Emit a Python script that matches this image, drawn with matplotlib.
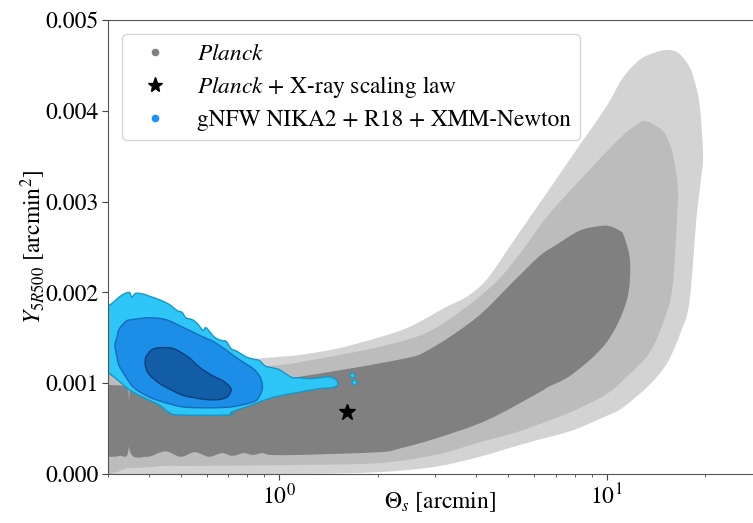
import matplotlib
matplotlib.use("Agg")
import numpy as np
import matplotlib.pyplot as plt
from matplotlib.lines import Line2D
from matplotlib.path import Path
from matplotlib.patches import PathPatch
from matplotlib.ticker import FormatStrFormatter

plt.rcParams["font.family"] = ["STIXGeneral", "DejaVu Serif"]
plt.rcParams["mathtext.fontset"] = "stix"

# Planck contours (Theta_s [arcmin], Y_5R500 [arcmin^2]) -- outer to inner
planck_3sig_x = [0.28, 0.346, 0.348, 0.350, 0.44, 0.448, 0.456, 1.15, 2.0, 3.0, 4.1, 5.2,
                 6.24, 7.87, 10.0, 11.2, 13.5, 15.3, 16.8, 17.9, 18.8, 19.5, 19.7, 19.2,
                 18.3, 17.6, 16.5, 15.3, 14.0, 12.6, 11.2, 10.0, 8.27, 7.03, 6.24, 5.16,
                 4.3, 3.73, 3.24, 2.5, 2.0, 1.5, 1.15, 1.0, 0.8, 0.5, 0.28]
planck_3sig_y = [0.0, 0.0, 0.00008, 0.0, 0.0, 0.00005, 0.0, 0.0, 0.00002, 0.00008, 0.00019, 0.00030,
                 0.00038, 0.00048, 0.00064, 0.00073, 0.00098, 0.00122, 0.00155, 0.00189, 0.00280, 0.00330, 0.00354, 0.00409,
                 0.00440, 0.00453, 0.00464, 0.00467, 0.00464, 0.00456, 0.00436, 0.00405, 0.00362, 0.00325, 0.00298, 0.00255,
                 0.00214, 0.00195, 0.00184, 0.00162, 0.00150, 0.00138, 0.00131, 0.00129, 0.00126, 0.00118, 0.00110]

planck_2sig_x = [0.28, 0.346, 0.348, 0.350, 0.44, 0.448, 0.456, 1.15, 2.0, 3.0, 4.1, 5.2,
                 6.24, 7.87, 10.0, 11.5, 13.5, 15.0, 15.9, 16.4, 16.5, 15.9, 15.0, 14.2,
                 13.3, 12.6, 11.0, 8.87, 6.56, 5.5, 4.4, 2.94, 2.02, 1.15, 1.0, 0.5, 0.28]
planck_2sig_y = [0.00008, 0.00007, 0.00016, 0.00007, 0.00009, 0.00013, 0.00009, 0.00010, 0.00012, 0.00021, 0.00035, 0.00045,
                 0.00055, 0.00069, 0.00088, 0.00107, 0.00133, 0.00170, 0.00206, 0.00280, 0.00316, 0.00354, 0.00376, 0.00383,
                 0.00388, 0.00387, 0.00370, 0.00335, 0.00283, 0.00245, 0.00205, 0.00159, 0.00140, 0.00123, 0.00120, 0.00110, 0.00105]

# 1-sigma region is split by a thin gap near 0.35 arcmin
planck_1sig_left_x = [0.28, 0.30, 0.325, 0.3465, 0.3465, 0.335, 0.30, 0.28]
planck_1sig_left_y = [0.00021, 0.00019, 0.00020, 0.00026, 0.00092, 0.00097, 0.00098, 0.00098]

planck_1sig_x = [0.3495, 0.395, 0.448, 0.50, 0.553, 0.61, 0.669, 0.72, 0.78, 0.83, 0.89, 0.94,
                 1.15, 2.02, 2.33, 3.0, 4.3, 6.24, 6.56, 7.87, 10.0, 11.5, 11.8, 11.3,
                 10.96, 10.2, 9.52, 8.27, 7.0, 6.24, 5.16, 4.0, 2.87, 2.33, 1.15, 1.0, 0.6, 0.36, 0.3495]
planck_1sig_y = [0.00026, 0.00019, 0.00025, 0.00019, 0.00024, 0.00019, 0.00023, 0.00020, 0.00023, 0.00021, 0.00023, 0.00021,
                 0.00021, 0.00024, 0.00028, 0.00039, 0.00059, 0.00090, 0.00095, 0.00110, 0.00145, 0.00190, 0.00233, 0.00262,
                 0.00268, 0.00273, 0.00273, 0.00268, 0.00252, 0.00240, 0.00211, 0.00172, 0.00137, 0.00126, 0.00107, 0.00106, 0.00100, 0.00097, 0.00092]

# gNFW NIKA2 + R18 + XMM-Newton contours
nika2_3sig_x = [0.28, 0.302, 0.318, 0.331, 0.348, 0.355, 0.365, 0.386, 0.400, 0.430, 0.460, 0.488,
                0.505, 0.519, 0.542, 0.561, 0.586, 0.598, 0.633, 0.665, 0.689, 0.713, 0.744, 0.782,
                0.821, 0.869, 0.906, 0.952, 1.0, 1.05, 1.10, 1.15, 1.24, 1.33, 1.42, 1.49, 1.51,
                1.45, 1.33, 1.15, 1.0, 0.912, 0.81, 0.713, 0.703, 0.494, 0.46, 0.43, 0.386, 0.348,
                0.32, 0.298, 0.28]
nika2_3sig_y = [0.00187, 0.00186, 0.00192, 0.00197, 0.00200, 0.00195, 0.00199, 0.00198, 0.00196, 0.00192, 0.00187, 0.00180,
                0.00178, 0.00172, 0.00170, 0.00166, 0.00158, 0.00161, 0.00151, 0.00147, 0.00146, 0.00138, 0.00135, 0.00130,
                0.00127, 0.00125, 0.00119, 0.00117, 0.00115, 0.00110, 0.00106, 0.00106, 0.00105, 0.00106, 0.00107, 0.00104, 0.00098,
                0.00095, 0.00094, 0.00090, 0.00086, 0.00082, 0.00075, 0.00068, 0.00065, 0.00065, 0.00068, 0.00076, 0.00084, 0.00093,
                0.00104, 0.00112, 0.00114]

nika2_2sig_x = [0.320, 0.324, 0.340, 0.355, 0.400, 0.451, 0.505, 0.569, 0.642, 0.755, 0.839, 0.881,
                0.887, 0.857, 0.810, 0.718, 0.642, 0.569, 0.505, 0.445, 0.400, 0.360, 0.340, 0.324,
                0.318, 0.315]
nika2_2sig_y = [0.00151, 0.00159, 0.00168, 0.00170, 0.00172, 0.00170, 0.00162, 0.00153, 0.00144, 0.00126, 0.00115, 0.00104,
                0.00093, 0.00082, 0.00078, 0.00074, 0.00073, 0.00073, 0.00074, 0.00079, 0.00085, 0.00095, 0.00107, 0.00120,
                0.00133, 0.00142]

nika2_1sig_x = [0.392, 0.409, 0.430, 0.460, 0.484, 0.531, 0.569, 0.620, 0.670, 0.703, 0.713, 0.694,
                0.655, 0.598, 0.549, 0.505, 0.460, 0.430, 0.400, 0.390]
nika2_1sig_y = [0.00129, 0.00137, 0.00139, 0.00139, 0.00137, 0.00128, 0.00118, 0.00109, 0.00103, 0.00097, 0.00092, 0.00085,
                0.00082, 0.00082, 0.00084, 0.00087, 0.00094, 0.00100, 0.00110, 0.00120]

# isolated islands of the outer NIKA2 contour
nika2_islands_x = [1.67, 1.69]
nika2_islands_y = [0.00109, 0.00101]

# Planck + X-ray scaling law
scaling_theta = [1.61]
scaling_y = [0.00068]

GREYS = ["#d3d3d3", "#bcbcbc", "#808080"]
BLUE_FILL = ["#2ec6f6", "#1c8ee8", "#135da6"]
BLUE_EDGE = ["#1597c8", "#166bbc", "#0d3f78"]


def smooth_contour(xs, ys, **kw):
    """Closed contour drawn with Catmull-Rom bezier segments (in log-x space)."""
    u = np.log10(np.asarray(xs, float))
    v = np.asarray(ys, float)
    n = len(u)
    verts = [(u[0], v[0])]
    codes = [Path.MOVETO]
    for i in range(n):
        p0 = np.array([u[i - 1], v[i - 1]])
        p1 = np.array([u[i], v[i]])
        p2 = np.array([u[(i + 1) % n], v[(i + 1) % n]])
        p3 = np.array([u[(i + 2) % n], v[(i + 2) % n]])
        c1 = p1 + (p2 - p0) / 6.0
        c2 = p2 - (p3 - p1) / 6.0
        verts += [tuple(c1), tuple(c2), tuple(p2)]
        codes += [Path.CURVE4] * 3
    verts = [(10 ** a, b) for a, b in verts]
    return PathPatch(Path(verts, codes), **kw)


fig = plt.figure(figsize=(7.53, 5.23), dpi=100)
ax = fig.add_axes([0.1434, 0.0937, 1.013 - 0.1434, 0.9618 - 0.0937])
ax.set_xscale("log")

ax.add_patch(smooth_contour(planck_3sig_x, planck_3sig_y, color=GREYS[0], lw=0))
ax.add_patch(smooth_contour(planck_2sig_x, planck_2sig_y, color=GREYS[1], lw=0))
ax.add_patch(smooth_contour(planck_1sig_left_x, planck_1sig_left_y, color=GREYS[2], lw=0))
ax.add_patch(smooth_contour(planck_1sig_x, planck_1sig_y, color=GREYS[2], lw=0))

ax.add_patch(smooth_contour(nika2_3sig_x, nika2_3sig_y, facecolor=BLUE_FILL[0], edgecolor=BLUE_EDGE[0], lw=1.0))
ax.add_patch(smooth_contour(nika2_2sig_x, nika2_2sig_y, facecolor=BLUE_FILL[1], edgecolor=BLUE_EDGE[1], lw=1.0))
ax.add_patch(smooth_contour(nika2_1sig_x, nika2_1sig_y, facecolor=BLUE_FILL[2], edgecolor=BLUE_EDGE[2], lw=1.0))
ax.plot(nika2_islands_x, nika2_islands_y, "o", ms=3.5, mfc=BLUE_FILL[0], mec=BLUE_EDGE[0], mew=0.8)

ax.plot(scaling_theta, scaling_y, "*", color="k", ms=12)

ax.set_xlim(0.3, 30)
ax.set_ylim(0, 0.005)
ax.yaxis.set_major_formatter(FormatStrFormatter("%.3f"))
ax.tick_params(labelsize=17, length=4.5, width=0.8, color="#444444", pad=2.5)
ax.tick_params(which="minor", length=2.5, width=0.6, color="#444444")
for sp in ax.spines.values():
    sp.set_color("#555555")

ax.set_xlabel(r"$\Theta_s$ [arcmin]", fontsize=17)
ax.xaxis.set_label_coords(0.507, -0.035)
ax.set_ylabel(r"$Y_{5R500}$ [arcmin$^2$]", fontsize=17)
ax.yaxis.set_label_coords(-0.092, 0.5)

handles = [
    Line2D([], [], ls="", marker="o", ms=4.5, color="grey"),
    Line2D([], [], ls="", marker="*", ms=11, color="k"),
    Line2D([], [], ls="", marker="o", ms=4.5, color="#1e90ff"),
]
labels = [r"$\it{Planck}$", r"$\it{Planck}$ + X-ray scaling law", "gNFW NIKA2 + R18 + XMM-Newton"]
ax.legend(handles, labels, loc="upper left", fontsize=16.8, handletextpad=0.8,
          borderaxespad=0.6, labelspacing=0.4)

fig.savefig("out.png", dpi=100)
